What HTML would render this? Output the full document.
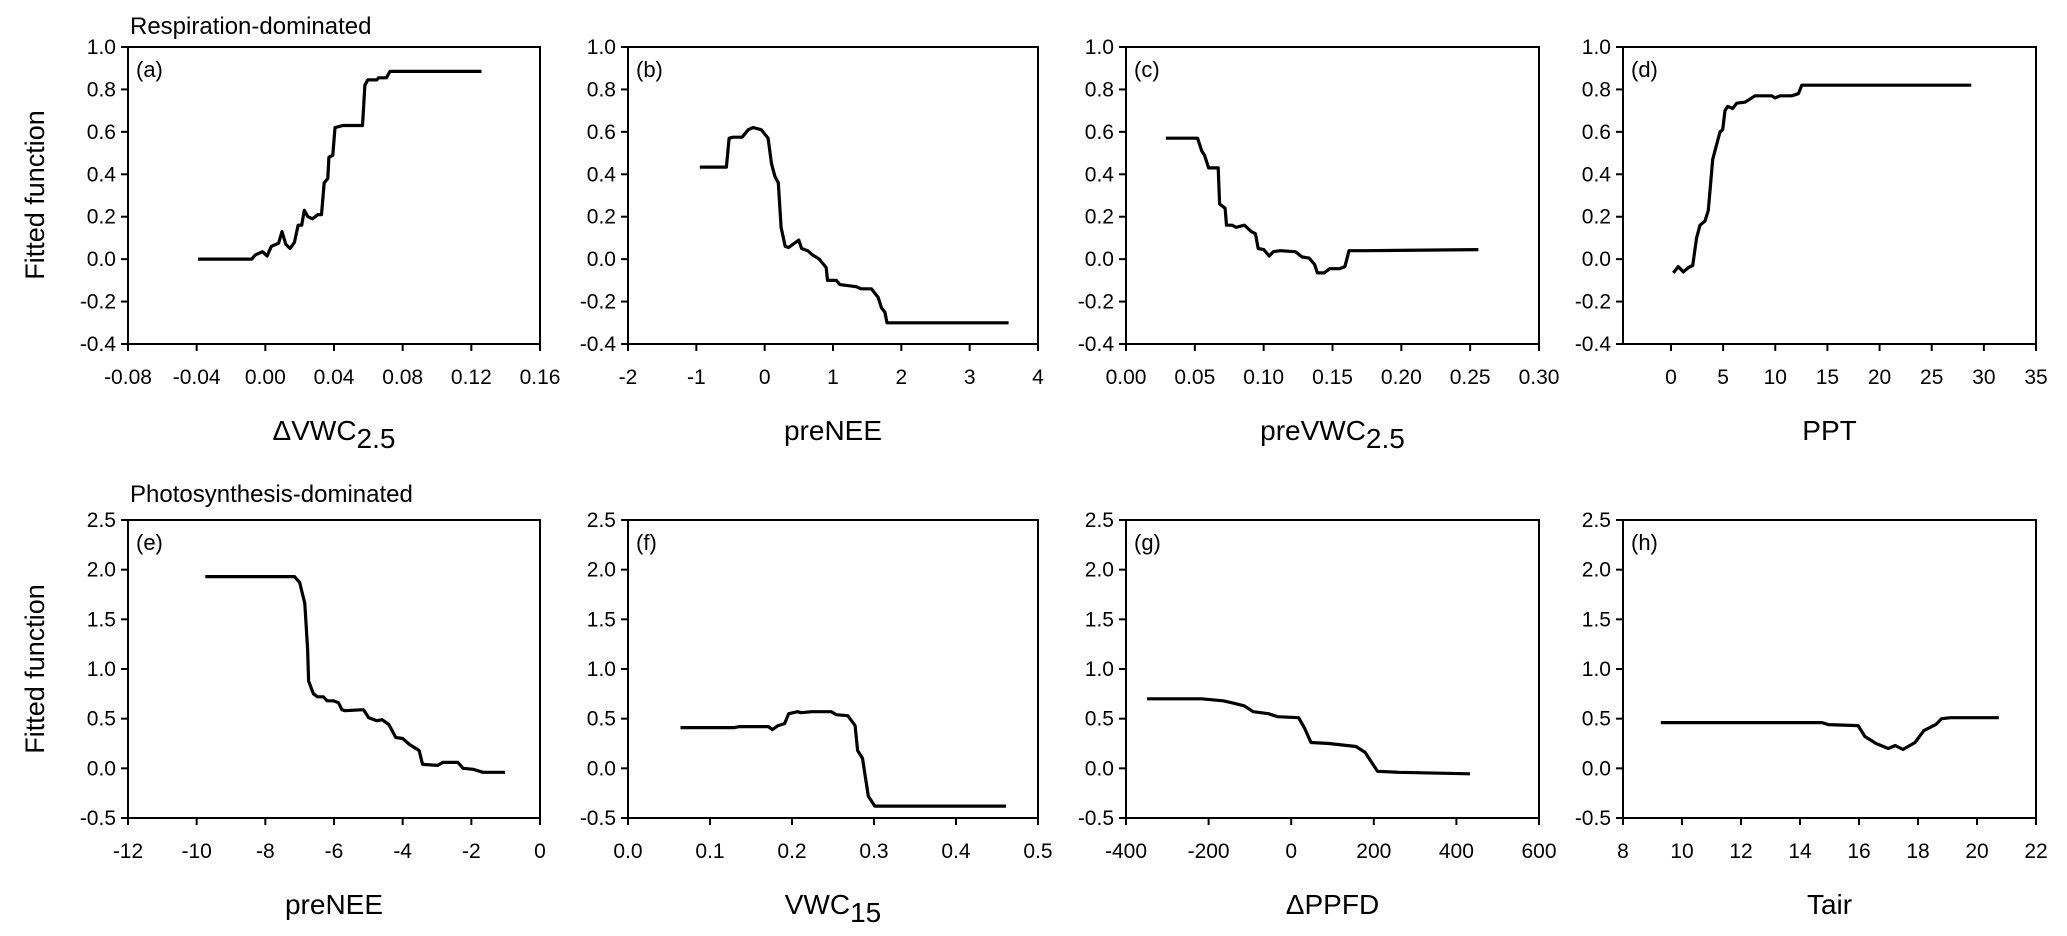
<!DOCTYPE html>
<html><head><meta charset="utf-8"><style>
html,body{margin:0;padding:0;background:#fff;}
svg{display:block;font-family:"Liberation Sans",Arial,sans-serif;}
</style></head><body>
<svg id="fig" width="2067" height="936" viewBox="0 0 2067 936">
<text x="130" y="34" font-size="24">Respiration-dominated</text>
<text x="130" y="502" font-size="24">Photosynthesis-dominated</text>
<text transform="translate(44,195) rotate(-90)" text-anchor="middle" font-size="27">Fitted function</text>
<text transform="translate(44,669) rotate(-90)" text-anchor="middle" font-size="27">Fitted function</text>
</svg>
<script>
// Panel (a) ΔVWC2.5
const aX=[-0.0392,-0.0079,-0.0058,-0.0017,0.001,0.0035,0.0077,0.0097,0.0119,0.0144,0.017,0.0191,0.0212,0.0227,0.0248,0.0275,0.0306,0.0327,0.0343,0.0364,0.037,0.0393,0.0406,0.0452,0.0566,0.058,0.0597,0.065,0.066,0.0705,0.0726,0.1259];
const aY=[0,0,0.02,0.035,0.015,0.06,0.075,0.13,0.07,0.05,0.08,0.16,0.16,0.23,0.2,0.19,0.21,0.21,0.36,0.38,0.48,0.49,0.62,0.63,0.63,0.82,0.845,0.845,0.855,0.855,0.885,0.885];
// Panel (b) preNEE
const bX=[-0.95,-0.56,-0.52,-0.46,-0.33,-0.24,-0.17,-0.05,0.05,0.1,0.15,0.2,0.24,0.3,0.35,0.5,0.54,0.63,0.7,0.8,0.9,0.92,1.05,1.1,1.34,1.41,1.56,1.66,1.71,1.76,1.79,3.57];
const bY=[0.434,0.434,0.57,0.575,0.575,0.61,0.62,0.61,0.57,0.45,0.39,0.36,0.15,0.06,0.055,0.09,0.05,0.04,0.02,0,-0.04,-0.1,-0.1,-0.12,-0.13,-0.14,-0.14,-0.18,-0.23,-0.25,-0.3,-0.3];
// Panel (c) preVWC2.5
const cX=[0.029,0.052,0.055,0.057,0.06,0.067,0.068,0.072,0.073,0.077,0.08,0.086,0.091,0.094,0.096,0.1,0.104,0.107,0.112,0.123,0.128,0.133,0.137,0.139,0.144,0.148,0.155,0.159,0.162,0.174,0.256];
const cY=[0.57,0.57,0.51,0.49,0.43,0.43,0.26,0.24,0.16,0.16,0.15,0.16,0.13,0.12,0.05,0.045,0.015,0.035,0.04,0.035,0.01,0.005,-0.025,-0.065,-0.065,-0.045,-0.045,-0.035,0.04,0.04,0.045];
// Panel (d) PPT
const dX=[0.22,0.7,1.18,1.66,2.08,2.46,2.78,3.26,3.58,4.0,4.7,4.96,5.18,5.44,5.92,6.3,7.1,8.06,9.66,9.98,10.46,11.58,12.22,12.54,28.8];
const dY=[-0.065,-0.035,-0.06,-0.04,-0.03,0.1,0.16,0.18,0.23,0.47,0.6,0.61,0.7,0.72,0.71,0.735,0.74,0.77,0.77,0.76,0.77,0.77,0.78,0.82,0.82];
// Panel (e) preNEE
const eX=[-9.75,-7.15,-7.0,-6.85,-6.77,-6.74,-6.6,-6.48,-6.31,-6.2,-6.02,-5.87,-5.77,-5.68,-5.14,-4.99,-4.75,-4.6,-4.4,-4.2,-4.0,-3.8,-3.52,-3.42,-2.98,-2.83,-2.39,-2.24,-1.95,-1.66,-1.02];
const eY=[1.93,1.93,1.87,1.66,1.2,0.88,0.75,0.72,0.72,0.68,0.68,0.66,0.59,0.58,0.59,0.51,0.48,0.49,0.44,0.31,0.3,0.24,0.18,0.04,0.03,0.06,0.06,0,-0.01,-0.04,-0.04];
// Panel (f) VWC15
const fX=[0.064,0.13,0.136,0.171,0.176,0.183,0.191,0.196,0.207,0.211,0.224,0.248,0.254,0.268,0.277,0.28,0.286,0.293,0.301,0.461];
const fY=[0.41,0.41,0.42,0.42,0.39,0.43,0.45,0.55,0.57,0.56,0.57,0.57,0.54,0.53,0.43,0.18,0.1,-0.28,-0.38,-0.38];
// Panel (g) ΔPPFD
const gX=[-349,-217,-165,-143,-114,-92,-55,-33,18,33,48,91,157,179,201,209,260,433];
const gY=[0.7,0.7,0.68,0.66,0.63,0.57,0.55,0.52,0.51,0.4,0.26,0.25,0.22,0.16,0.02,-0.03,-0.04,-0.055];
// Panel (h) Tair
const hX=[9.28,14.75,14.96,15.97,16.2,16.58,16.99,17.23,17.49,17.9,18.2,18.6,18.8,19.1,20.74];
const hY=[0.46,0.46,0.44,0.43,0.32,0.25,0.2,0.23,0.19,0.26,0.38,0.44,0.5,0.51,0.51];
// tick labels
const ticksA=["-0.08","-0.04","0.00","0.04","0.08","0.12","0.16"];
const ticksB=["-2","-1","0","1","2","3","4"];
const ticksC=["0.00","0.05","0.10","0.15","0.20","0.25","0.30"];
const ticksD=["0","5","10","15","20","25","30","35"];
const ticksE=["-12","-10","-8","-6","-4","-2","0"];
const ticksF=["0.0","0.1","0.2","0.3","0.4","0.5"];
const ticksG=["-400","-200","0","200","400","600"];
const ticksH=["8","10","12","14","16","18","20","22"];
const ticksYTop=["-0.4","-0.2","0.0","0.2","0.4","0.6","0.8","1.0"];
const ticksYBot=["-0.5","0.0","0.5","1.0","1.5","2.0","2.5"];

const NS="http://www.w3.org/2000/svg";
const svg=document.getElementById('fig');
function mk(tag,attrs,parent){const e=document.createElementNS(NS,tag);for(const k in attrs)e.setAttribute(k,attrs[k]);(parent||svg).appendChild(e);return e;}

const panels=[
 {id:'a',xs:aX,ys:aY,xt:ticksA,xmin:-0.08,xmax:0.16,x0:128,x1:540,top:true,title:'ΔVWC',sub:'2.5'},
 {id:'b',xs:bX,ys:bY,xt:ticksB,xmin:-2,xmax:4,x0:628,x1:1038,top:true,title:'preNEE',sub:''},
 {id:'c',xs:cX,ys:cY,xt:ticksC,xmin:0,xmax:0.30,x0:1126,x1:1539,top:true,title:'preVWC',sub:'2.5'},
 {id:'d',xs:dX,ys:dY,xt:ticksD,xmin:-4.6,xmax:35,x0:1623,x1:2036,top:true,title:'PPT',sub:''},
 {id:'e',xs:eX,ys:eY,xt:ticksE,xmin:-12,xmax:0,x0:128,x1:540,top:false,title:'preNEE',sub:''},
 {id:'f',xs:fX,ys:fY,xt:ticksF,xmin:0,xmax:0.5,x0:628,x1:1038,top:false,title:'VWC',sub:'15'},
 {id:'g',xs:gX,ys:gY,xt:ticksG,xmin:-400,xmax:600,x0:1126,x1:1539,top:false,title:'ΔPPFD',sub:''},
 {id:'h',xs:hX,ys:hY,xt:ticksH,xmin:8,xmax:22,x0:1623,x1:2036,top:false,title:'Tair',sub:''}
];

panels.forEach(p=>{
  const y0=p.top?47:520, y1=p.top?344:818;
  const ymin=p.top?-0.4:-0.5, ymax=p.top?1.0:2.5;
  const yt=p.top?ticksYTop:ticksYBot;
  const sx=v=>p.x0+(v-p.xmin)/(p.xmax-p.xmin)*(p.x1-p.x0);
  const sy=v=>y1-(v-ymin)/(ymax-ymin)*(y1-y0);
  const g=mk('g',{});
  
  
  const fr=mk('rect',{x:p.x0,y:y0,width:p.x1-p.x0,height:y1-y0,fill:'none',stroke:'#000','stroke-width':2},g);
  
  
  yt.forEach(t=>{
    const v=parseFloat(t),yy=sy(v);
    mk('line',{x1:p.x0-7,x2:p.x0,y1:yy,y2:yy,stroke:'#000','stroke-width':2},g);
    const tx=mk('text',{x:p.x0-12,y:yy+7,'text-anchor':'end','font-size':21},g);
    tx.textContent=t;
    
    
  });
  p.xt.forEach(t=>{
    const v=parseFloat(t),xx=sx(v);
    mk('line',{x1:xx,x2:xx,y1:y1,y2:y1+7,stroke:'#000','stroke-width':2},g);
    const tx=mk('text',{x:xx,y:y1+40,'text-anchor':'middle','font-size':21},g);
    tx.textContent=t;
    
    
  });
  const lb=mk('text',{x:p.x0+8,y:y0+30,'font-size':22},g);
  lb.textContent='('+p.id+')';
  
  
  const tt=mk('text',{x:(p.x0+p.x1)/2,y:y1+96,'text-anchor':'middle','font-size':28},g);
  
  
  const s1=document.createElementNS(NS,'tspan');s1.textContent=p.title;tt.appendChild(s1);
  if(p.sub){const s2=document.createElementNS(NS,'tspan');s2.setAttribute('dy','8');s2.textContent=p.sub;tt.appendChild(s2);}
  const pts=p.xs.map((v,i)=>sx(v).toFixed(1)+','+sy(p.ys[i]).toFixed(1)).join(' ');
  const ln=mk('polyline',{points:pts,fill:'none',stroke:'#000','stroke-width':3.2,'stroke-linejoin':'round'},g);
  
  
});
</script>
</body></html>
